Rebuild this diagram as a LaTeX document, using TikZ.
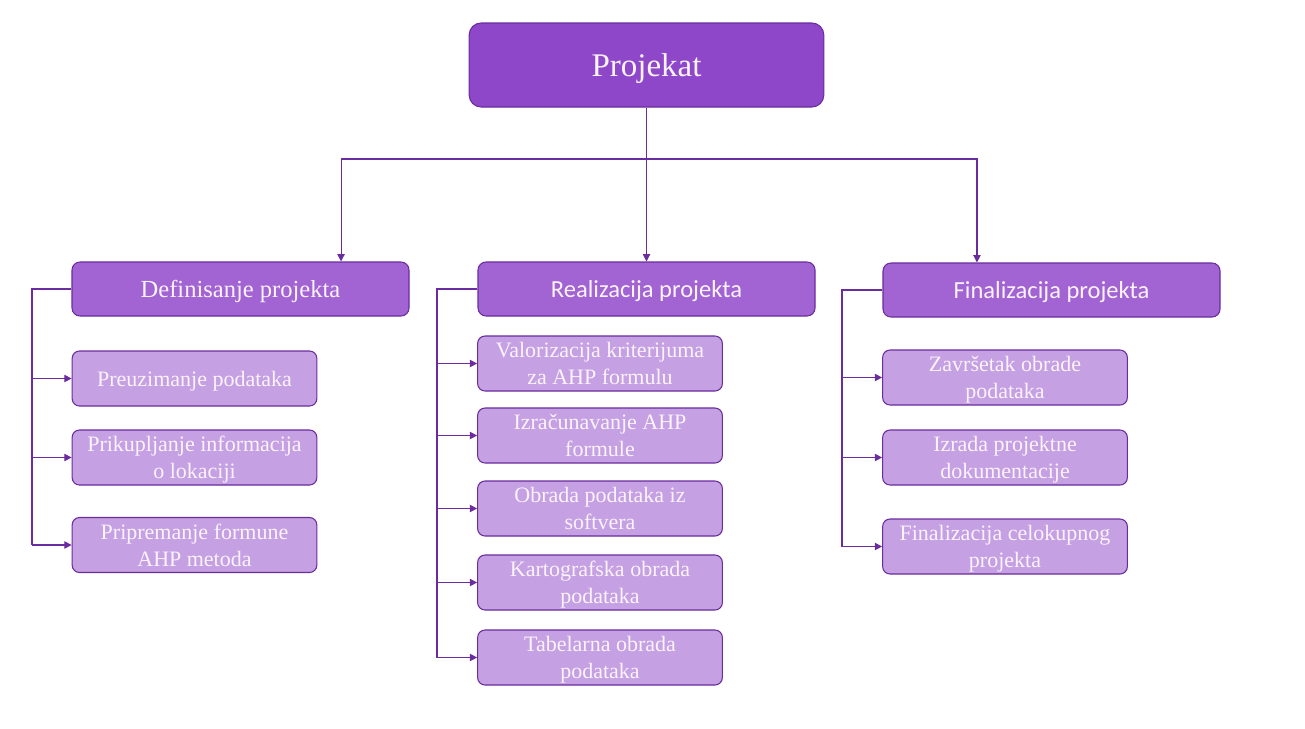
\documentclass[tikz,border=0pt]{standalone}
\usepackage{fontspec}
\setmainfont{Liberation Serif}
\newfontfamily\calibri{Carlito}
\usetikzlibrary{arrows.meta}
\definecolor{topfill}{HTML}{8E47C8}
\definecolor{midfill}{HTML}{A263D3}
\definecolor{leaffill}{HTML}{C5A0E2}
\definecolor{edge}{HTML}{6A2C9E}
\definecolor{txt}{HTML}{FBF3FD}
\tikzset{
  base/.style={draw=edge, line width=0.8pt, text=txt, align=center, inner sep=0pt, text depth=0pt},
  topbox/.style={base, fill=topfill, rounded corners=9pt, minimum width=266pt, minimum height=63pt, font=\fontsize{24.75}{28}\selectfont},
  midbox/.style={base, fill=midfill, rounded corners=6pt, minimum width=252.75pt, minimum height=40.5pt, font=\fontsize{18.4}{22}\selectfont},
  leafbox/.style={base, fill=leaffill, rounded corners=5.5pt, minimum width=183.5pt, minimum height=41.25pt, font=\fontsize{16.5}{20.2}\selectfont},
  conn/.style={draw=edge, line width=0.8pt},
  arr/.style={conn, -{Triangle[length=5.5pt,width=5.5pt]}}
}
\begin{document}
\begin{tikzpicture}[x=0.75pt,y=-0.75pt]
\useasboundingbox (0,0) rectangle (1305,728);
% top
\node[topbox] (top) at (646.5,65) {Projekat};
% level 2
\node[midbox] (d) at (240.5,289) {Definisanje projekta};
\node[midbox, font=\calibri\fontsize{18.4}{22}\selectfont] (r) at (646.5,289) {Realizacija projekta};
\node[midbox, font=\calibri\fontsize{18.4}{22}\selectfont] (f) at (1051.5,290) {Finalizacija projekta};
% leaves D
\node[leafbox] (d1) at (194.5,378.5) {Preuzimanje podataka};
\node[leafbox] (d2) at (194.5,457.5) {Prikupljanje informacija\\o lokaciji};
\node[leafbox] (d3) at (194.5,545) {Pripremanje formune\\AHP metoda};
% leaves R
\node[leafbox] (r1) at (600,363.5) {Valorizacija kriterijuma\\za AHP formulu};
\node[leafbox] (r2) at (600,435.5) {Izračunavanje AHP\\formule};
\node[leafbox] (r3) at (600,508.5) {Obrada podataka iz\\softvera};
\node[leafbox] (r4) at (600,582.5) {Kartografska obrada\\podataka};
\node[leafbox] (r5) at (600,657.5) {Tabelarna obrada\\podataka};
% leaves F
\node[leafbox] (f1) at (1005,377.5) {Završetak obrade\\podataka};
\node[leafbox] (f2) at (1005,457.5) {Izrada projektne\\dokumentacije};
\node[leafbox] (f3) at (1005,546.5) {Finalizacija celokupnog\\projekta};
% top connectors
\coordinate (bus) at (646.5,159);
\draw[conn] (top.south) -- (bus);
\draw[arr] (bus) -| ([xshift=75.4pt]d.north);
\draw[arr] (bus) -- (r.north);
\draw[arr] (bus) -| ([xshift=-55.9pt]f.north);
% D branch
\coordinate (dl) at (32,289);
\draw[conn] (d.west) -- (dl) -- (dl |- d3.west);
\foreach \n in {d1,d2,d3} \draw[arr] (dl |- \n.west) -- (\n.west);
% R branch
\coordinate (rl) at (437,289);
\draw[conn] (r.west) -- (rl) -- (rl |- r5.west);
\foreach \n in {r1,r2,r3,r4,r5} \draw[arr] (rl |- \n.west) -- (\n.west);
% F branch
\coordinate (fl) at (842,290);
\draw[conn] (f.west) -- (fl) -- (fl |- f3.west);
\foreach \n in {f1,f2,f3} \draw[arr] (fl |- \n.west) -- (\n.west);
\end{tikzpicture}
\end{document}
